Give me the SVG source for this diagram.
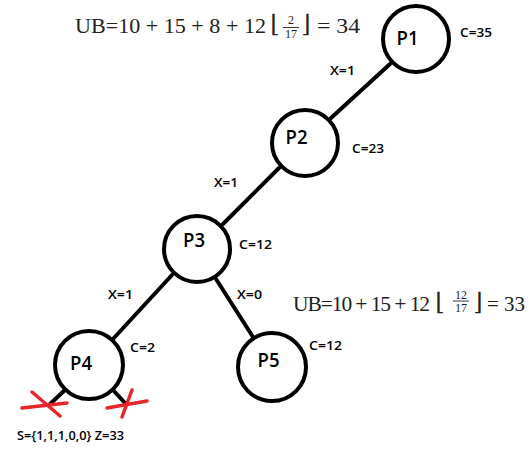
<svg xmlns="http://www.w3.org/2000/svg" width="530" height="449" viewBox="0 0 530 449">
<style>
.node circle{fill:#fff;stroke:#000;stroke-width:4}
.node text{font-family:"Open Sans","Liberation Sans",sans-serif;font-weight:600;font-size:20px;text-anchor:middle;fill:#000}
.edge{stroke:#000;stroke-width:4;stroke-linecap:round;fill:none}
.lab{font-family:"Open Sans","Liberation Sans",sans-serif;font-weight:600;font-size:12px;fill:#000}
.math{font-family:"Liberation Serif","DejaVu Serif",serif;font-size:22px;fill:#222}
.fl{font-family:"DejaVu Serif",serif;font-size:24px;fill:#222;text-anchor:middle}
.fr{font-family:"Liberation Serif","DejaVu Serif",serif;font-size:12px;fill:#222;text-anchor:middle}
.cross{stroke:#e8262a;stroke-width:3.5;stroke-linecap:round;fill:none}
</style>
<rect width="530" height="449" fill="#fff"/>
<g id="connectors">
<line class="edge" x1="390" y1="64" x2="331" y2="118"/>
<line class="edge" x1="279" y1="168" x2="223" y2="224"/>
<line class="edge" x1="172" y1="275" x2="113" y2="339"/>
<line class="edge" x1="216" y1="279" x2="253" y2="337"/>
<line class="edge" x1="65" y1="390" x2="50" y2="404"/>
<line class="edge" x1="113" y1="390" x2="125" y2="403"/>
</g>
<g id="P1" class="node"><circle cx="416" cy="39" r="33"/><text x="407.5" y="45" textLength="22" lengthAdjust="spacingAndGlyphs">P1</text></g>
<g id="P2" class="node"><circle cx="305" cy="143" r="33"/><text x="296.5" y="144" textLength="22" lengthAdjust="spacingAndGlyphs">P2</text></g>
<g id="P3" class="node"><circle cx="197" cy="249" r="33"/><text x="194" y="247" textLength="22" lengthAdjust="spacingAndGlyphs">P3</text></g>
<g id="P4" class="node"><circle cx="89" cy="365" r="34"/><text x="81" y="370" textLength="22" lengthAdjust="spacingAndGlyphs">P4</text></g>
<g id="P5" class="node"><circle cx="272" cy="367" r="34"/><text x="268.5" y="367" textLength="22" lengthAdjust="spacingAndGlyphs">P5</text></g>
<g id="labels">
<text class="lab" x="330" y="75" textLength="25" lengthAdjust="spacingAndGlyphs">X=1</text>
<text class="lab" x="214" y="187" textLength="24" lengthAdjust="spacingAndGlyphs">X=1</text>
<text class="lab" x="108" y="299" textLength="25" lengthAdjust="spacingAndGlyphs">X=1</text>
<text class="lab" x="237" y="299" textLength="25" lengthAdjust="spacingAndGlyphs">X=0</text>
<text class="lab" x="460" y="37" textLength="32" lengthAdjust="spacingAndGlyphs">C=35</text>
<text class="lab" x="352" y="153" textLength="32" lengthAdjust="spacingAndGlyphs">C=23</text>
<text class="lab" x="239" y="249" textLength="33" lengthAdjust="spacingAndGlyphs">C=12</text>
<text class="lab" x="130" y="352" textLength="25" lengthAdjust="spacingAndGlyphs">C=2</text>
<text class="lab" x="309" y="350" textLength="33" lengthAdjust="spacingAndGlyphs">C=12</text>
<text class="lab" x="17" y="440" font-size="14" textLength="107" lengthAdjust="spacingAndGlyphs">S={1,1,1,0,0} Z=33</text>
</g>
<g id="crosses">
<line class="cross" x1="32" y1="392" x2="60" y2="416"/>
<line class="cross" x1="22" y1="408" x2="67" y2="403"/>
<line class="cross" x1="132" y1="390" x2="122" y2="417"/>
<line class="cross" x1="107" y1="408" x2="147" y2="401"/>
</g>
<g id="ub1">
<text class="math" x="75" y="33" textLength="191" lengthAdjust="spacingAndGlyphs">UB=10 + 15 + 8 + 12</text>
<text class="fl" x="275" y="32">⌊</text>
<text class="fr" x="291" y="24">2</text>
<line x1="283" y1="27.5" x2="299" y2="27.5" stroke="#222" stroke-width="0.9"/>
<text class="fr" x="291" y="37.5">17</text>
<text class="fl" x="306" y="32">⌋</text>
<text class="math" x="317" y="33" textLength="43" lengthAdjust="spacingAndGlyphs">= 34</text>
</g>
<g id="ub2">
<text class="math" x="293" y="311" letter-spacing="-1.1" textLength="136" lengthAdjust="spacingAndGlyphs">UB=10 + 15 + 12</text>
<text class="fl" x="440" y="310">⌊</text>
<text class="fr" x="461" y="298.5" font-size="11">12</text>
<line x1="453" y1="301" x2="469" y2="301" stroke="#222" stroke-width="0.9"/>
<text class="fr" x="461" y="311.5" font-size="11">17</text>
<text class="fl" x="478" y="310">⌋</text>
<text class="math" x="487" y="311" textLength="38" lengthAdjust="spacingAndGlyphs">= 33</text>
</g>
</svg>
